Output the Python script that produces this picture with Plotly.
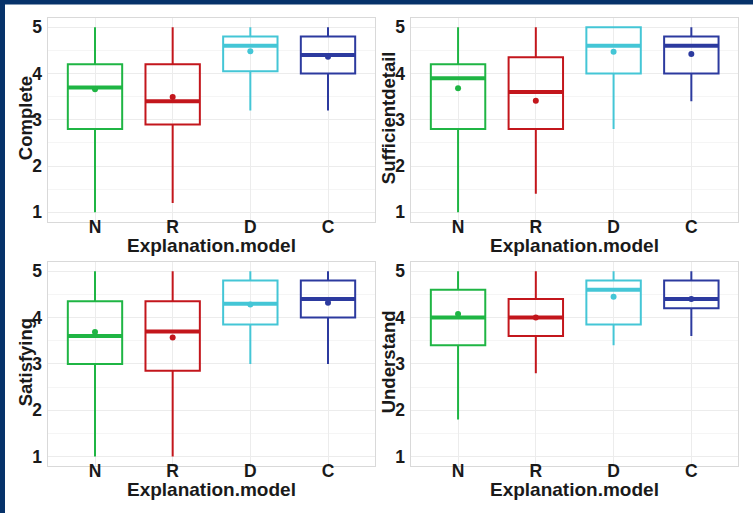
import plotly.graph_objects as go

categories = ["N", "R", "D", "C"]
colors = ["#1fb544", "#c3161c", "#44c6d6", "#2c3a9f"]
panel_titles = ["Complete", "Sufficientdetail", "Satisfying", "Understand"]
x_title = "Explanation.model"
y_ticks = [1, 2, 3, 4, 5]

# per panel, per category (N, R, D, C)
lower_whisker = [
    [1.0, 1.2, 3.2, 3.2],
    [1.0, 1.4, 2.8, 3.4],
    [1.0, 1.0, 3.0, 3.0],
    [1.8, 2.8, 3.4, 3.6],
]
q1 = [
    [2.8, 2.9, 4.05, 4.0],
    [2.8, 2.8, 4.0, 4.0],
    [3.0, 2.85, 3.85, 4.0],
    [3.4, 3.6, 3.85, 4.2],
]
median = [
    [3.7, 3.4, 4.6, 4.4],
    [3.9, 3.6, 4.6, 4.6],
    [3.6, 3.7, 4.3, 4.4],
    [4.0, 4.0, 4.6, 4.4],
]
q3 = [
    [4.2, 4.2, 4.8, 4.8],
    [4.2, 4.35, 5.0, 4.8],
    [4.35, 4.35, 4.8, 4.8],
    [4.6, 4.4, 4.8, 4.8],
]
upper_whisker = [
    [5.0, 5.0, 5.0, 5.0],
    [5.0, 5.0, 5.0, 5.0],
    [5.0, 5.0, 5.0, 5.0],
    [5.0, 5.0, 5.0, 5.0],
]
mean = [
    [3.66, 3.49, 4.48, 4.36],
    [3.68, 3.41, 4.47, 4.42],
    [3.69, 3.57, 4.28, 4.32],
    [4.08, 4.0, 4.45, 4.4],
]

W, H = 753, 513
# panel pixel boxes (left, right, top, bottom)
panels_px = [
    (48.4, 374.6, 18.0, 221.5),
    (411.4, 738.0, 18.0, 221.5),
    (48.4, 374.6, 262.0, 465.8),
    (411.4, 738.0, 262.0, 465.8),
]
box_width = 0.7
FONT = "Liberation Sans, Arial, sans-serif"
TXT = "#1a1a1a"

fig = go.Figure()
layout = dict(
    width=W, height=H,
    margin=dict(l=0, r=0, t=0, b=0, pad=0),
    paper_bgcolor="white", plot_bgcolor="white",
    showlegend=False,
    font=dict(family=FONT, color=TXT),
)
annotations = []
shapes = []

for p in range(4):
    xa = "x" if p == 0 else f"x{p+1}"
    ya = "y" if p == 0 else f"y{p+1}"
    for i, cat in enumerate(categories):
        c = colors[i]
        fig.add_trace(go.Box(
            x=[i], q1=[q1[p][i]], median=[median[p][i]], q3=[q3[p][i]],
            lowerfence=[lower_whisker[p][i]], upperfence=[upper_whisker[p][i]],
            boxpoints=False, width=box_width,
            line=dict(color=c, width=2), fillcolor="rgba(255,255,255,0)",
            whiskerwidth=0, xaxis=xa, yaxis=ya, hoverinfo="skip",
        ))
        # thick median bar spanning the box width
        fig.add_trace(go.Scatter(
            x=[i - box_width / 2, i + box_width / 2],
            y=[median[p][i], median[p][i]], mode="lines",
            line=dict(color=c, width=4),
            xaxis=xa, yaxis=ya, hoverinfo="skip",
        ))
        # mean point
        fig.add_trace(go.Scatter(
            x=[i], y=[mean[p][i]], mode="markers",
            marker=dict(size=6, color=c),
            xaxis=xa, yaxis=ya, hoverinfo="skip",
        ))

    l, r, t, b = panels_px[p]
    xdom = [l / W, r / W]
    ydom = [1 - b / H, 1 - t / H]
    key = "" if p == 0 else str(p + 1)
    layout["xaxis" + key] = dict(
        domain=xdom, anchor=ya,
        range=[-0.6, len(categories) - 0.4],
        tickvals=list(range(len(categories))), ticktext=categories,
        showgrid=True, gridcolor="#ececec", gridwidth=1,
        showline=True, linecolor="#d9d9d9", linewidth=1, mirror=True,
        ticks="", ticklabelstandoff=-11, automargin=False,
        tickfont=dict(size=17.5, family=FONT, color=TXT, weight="bold"),
        zeroline=False, fixedrange=True,
    )
    layout["yaxis" + key] = dict(
        domain=ydom, anchor=xa, range=[0.8, 5.2],
        tickvals=y_ticks, showgrid=True, gridcolor="#ececec", gridwidth=1,
        minor=dict(dtick=0.5, showgrid=True, gridcolor="#f5f5f5", gridwidth=1),
        showline=True, linecolor="#d9d9d9", linewidth=1, mirror=True,
        ticks="", ticklabelstandoff=2, automargin=False,
        tickfont=dict(size=17.5, family=FONT, color=TXT, weight="bold"),
        zeroline=False, fixedrange=True,
    )
    # axis titles
    annotations.append(dict(
        text=x_title, xref="paper", yref="paper",
        x=(l + r) / 2 / W, y=1 - (b + 24) / H,
        showarrow=False, xanchor="center", yanchor="middle",
        font=dict(size=19, family=FONT, color=TXT, weight="bold"),
    ))
    annotations.append(dict(
        text=panel_titles[p], xref="paper", yref="paper",
        x=(l - 23) / W, y=1 - ((t + b) / 2 - 2) / H,
        showarrow=False, xanchor="center", yanchor="middle", textangle=-90,
        font=dict(size=18.5, family=FONT, color=TXT, weight="bold"),
    ))

# dark frame (top and left edges)
shapes.append(dict(type="rect", xref="paper", yref="paper", x0=0, x1=1,
                   y0=1 - 4.5 / H, y1=1, fillcolor="#06326a", line=dict(width=0), layer="above"))
shapes.append(dict(type="rect", xref="paper", yref="paper", x0=0, x1=5 / W,
                   y0=0, y1=1, fillcolor="#06326a", line=dict(width=0), layer="above"))

layout["annotations"] = annotations
layout["shapes"] = shapes
fig.update_layout(**layout)
fig.write_html(
    "out.html",
    config={"displayModeBar": False, "staticPlot": True},
    post_script="document.body.style.margin='0px';document.body.style.overflow='hidden';",
)
